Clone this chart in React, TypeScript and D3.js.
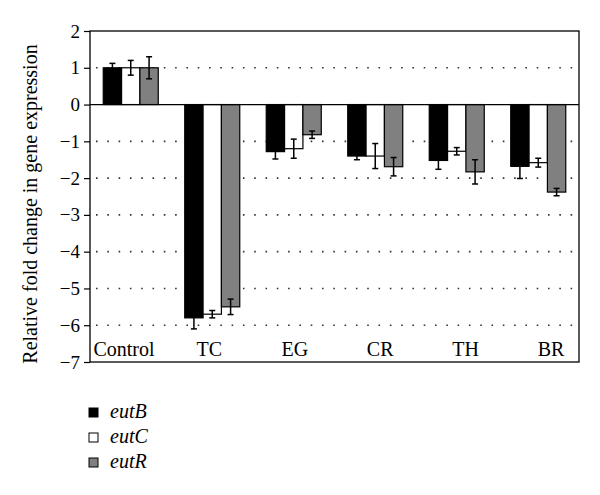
import { useEffect, useRef } from 'react'
import * as d3 from 'd3'

const categories = ['Control', 'TC', 'EG', 'CR', 'TH', 'BR']
const series = ['eutB', 'eutC', 'eutR']
const eutB = [1.0, -5.8, -1.28, -1.4, -1.52, -1.68]
const eutC = [1.0, -5.7, -1.2, -1.4, -1.27, -1.58]
const eutR = [1.0, -5.5, -0.82, -1.69, -1.83, -2.38]
const eutBErr = [0.12, 0.3, 0.2, 0.1, 0.24, 0.33]
const eutCErr = [0.2, 0.1, 0.26, 0.34, 0.1, 0.12]
const eutRErr = [0.3, 0.21, 0.1, 0.25, 0.33, 0.1]
const yTicks = [2, 1, 0, -1, -2, -3, -4, -5, -6, -7]
const gridTicks = [1, -1, -2, -3, -4, -5, -6]
const colors = ['#000000', '#ffffff', '#808080']

export default function App() {
  const svgRef = useRef(null)

  useEffect(() => {
    const svg = d3.select(svgRef.current)
    svg.selectAll('*').remove()

    const left = 90, right = 579, top = 31, bottom = 362
    const font = '"Liberation Serif", "Times New Roman", serif'

    const x = d3.scaleBand().domain(categories).range([left, right])
      .paddingInner(0.325).paddingOuter(0.1625)
    const xSub = d3.scaleBand().domain(series).range([0, x.bandwidth()])
    const y = d3.scaleLinear().domain([-7, 2]).range([bottom, top])
    // category labels sit a bit to the right of the group centers in the original
    const xLabel = d3.scalePoint().domain(categories).range([124, 551])

    const values = [eutB, eutC, eutR]
    const errs = [eutBErr, eutCErr, eutRErr]
    const rows = series.flatMap((s, si) => categories.map((c, ci) => ({
      s, c, si, v: values[si][ci], e: errs[si][ci]
    })))

    // dotted grid
    svg.append('g')
      .selectAll('line')
      .data(gridTicks)
      .join('line')
      .attr('x1', left + 6).attr('x2', right)
      .attr('y1', d => y(d)).attr('y2', d => y(d))
      .attr('stroke', '#333')
      .attr('stroke-width', 1.6)
      .attr('stroke-dasharray', '1.6 9.7')

    // bars
    svg.append('g')
      .selectAll('rect')
      .data(rows)
      .join('rect')
      .attr('x', d => x(d.c) + xSub(d.s))
      .attr('width', xSub.bandwidth())
      .attr('y', d => y(Math.max(0, d.v)))
      .attr('height', d => Math.abs(y(d.v) - y(0)))
      .attr('fill', d => colors[d.si])
      .attr('stroke', '#000')
      .attr('stroke-width', 1.2)

    // zero line
    svg.append('line')
      .attr('x1', left).attr('x2', right)
      .attr('y1', y(0)).attr('y2', y(0))
      .attr('stroke', '#000').attr('stroke-width', 1.2)

    // error bars
    const eb = svg.append('g')
      .selectAll('g')
      .data(rows)
      .join('g')
      .attr('stroke', '#000')
      .attr('stroke-width', 1.5)
    const cx = d => x(d.c) + xSub(d.s) + xSub.bandwidth() / 2
    eb.append('line')
      .attr('x1', cx).attr('x2', cx)
      .attr('y1', d => y(d.v + d.e)).attr('y2', d => y(d.v - d.e))
    eb.append('line')
      .attr('x1', d => cx(d) - 3).attr('x2', d => cx(d) + 3)
      .attr('y1', d => y(d.v + d.e)).attr('y2', d => y(d.v + d.e))
    eb.append('line')
      .attr('x1', d => cx(d) - 3).attr('x2', d => cx(d) + 3)
      .attr('y1', d => y(d.v - d.e)).attr('y2', d => y(d.v - d.e))

    // frame
    svg.append('rect')
      .attr('x', left).attr('y', top)
      .attr('width', right - left).attr('height', bottom - top)
      .attr('fill', 'none')
      .attr('stroke', '#000')
      .attr('stroke-width', 1.3)

    // y axis
    const yAxis = d3.axisLeft(y)
      .tickValues(yTicks)
      .tickSize(6)
      .tickPadding(4)
      .tickFormat(d => (d < 0 ? '\u2212' + Math.abs(d) : String(d)))
    const ya = svg.append('g')
      .attr('transform', `translate(${left},0)`)
      .call(yAxis)
    ya.select('.domain').remove()
    ya.selectAll('line').attr('stroke', '#000').attr('stroke-width', 1.2)
    ya.selectAll('text')
      .attr('fill', '#000')
      .style('font-family', font)
      .style('font-size', '19px')

    // category labels
    svg.append('g')
      .selectAll('text')
      .data(categories)
      .join('text')
      .attr('x', d => xLabel(d))
      .attr('y', 356)
      .attr('text-anchor', 'middle')
      .style('font-family', font)
      .style('font-size', '20px')
      .attr('fill', '#000')
      .text(d => d)

    // y title
    svg.append('text')
      .attr('transform', 'translate(37,204) rotate(-90)')
      .attr('text-anchor', 'middle')
      .style('font-family', font)
      .style('font-size', '20px')
      .attr('fill', '#000')
      .text('Relative fold change in gene expression')

    // legend
    const lg = svg.append('g')
      .selectAll('g')
      .data(series)
      .join('g')
      .attr('transform', (_, i) => `translate(89,${408 + i * 25})`)
    lg.append('rect')
      .attr('width', 9).attr('height', 9)
      .attr('fill', (_, i) => colors[i])
      .attr('stroke', '#000')
      .attr('stroke-width', 1)
    lg.append('text')
      .attr('x', 21).attr('y', 10)
      .style('font-family', font)
      .style('font-size', '20px')
      .style('font-style', 'italic')
      .attr('fill', '#000')
      .text(d => d)
  }, [])

  return (
    <svg
      ref={svgRef}
      width={600}
      height={495}
      style={{ position: 'absolute', left: 0, top: 0, background: '#fff' }}
    />
  )
}
